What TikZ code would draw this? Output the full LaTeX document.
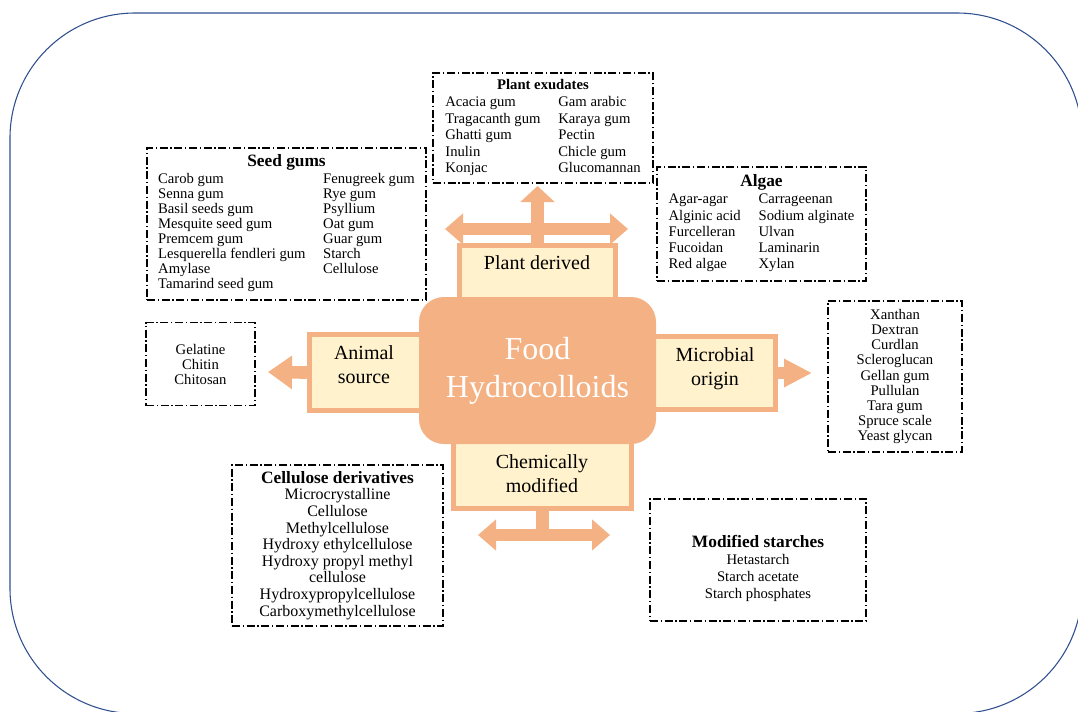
\documentclass[tikz,border=0pt]{standalone}
\usepackage{fontspec}
\setmainfont{Liberation Serif}
\usetikzlibrary{arrows.meta,positioning}

\definecolor{salmon}{HTML}{F4B183}
\definecolor{cream}{HTML}{FFF2CC}
\definecolor{frameblue}{HTML}{2F4F8F}

\tikzset{
  listbox/.style={draw, line width=0.8pt, dash pattern=on 6pt off 2pt on 1pt off 2pt, inner sep=0pt, align=center},
  catbox/.style={draw=salmon, fill=cream, line width=4pt, inner sep=0pt},
  cattext/.style={font=\fontsize{15}{18}\selectfont, align=center},
  fatarrow/.style={draw=salmon, line width=9.5pt, >={Triangle[length=13.5pt,width=22.5pt]}},
}

\begin{document}
\begin{tikzpicture}[x=0.75pt,y=-0.75pt]
\useasboundingbox (0,0) rectangle (1078,711);
\fill[white] (0,0) rectangle (1078,711);
\begin{scope}
\clip (0,0) rectangle (1078,711);
\draw[frameblue, line width=0.8pt, rounded corners=93.75pt] (10,13) rectangle (1082,713.5);
\end{scope}

% categories
\node[catbox, minimum width=117pt, minimum height=48.4pt] (plant) at (537.5,277.75) {};
\node[cattext] (plantlbl) at (537,263) {Plant derived};
\node[catbox, minimum width=90.4pt, minimum height=57pt] (animal) at (369.75,372.5) {};
\node[cattext] (animallbl) at (364,365) {Animal\\source};
\node[catbox, minimum width=94pt, minimum height=54.75pt] (microbe) at (712.75,373) {};
\node[cattext] (microbelbl) at (715,369) {Microbial\\origin};
\node[catbox, minimum width=133.5pt, minimum height=59pt] (chem) at (542.5,469) {};
\node[cattext] (chemlbl) at (542,474) {Chemically\\modified};

\node[fill=salmon, rounded corners=18.75pt, minimum width=177.75pt, minimum height=110.25pt,
  text=white, font=\fontsize{24}{28.5}\selectfont, align=center] (food) at (537.5,370.5) {Food\\Hydrocolloids};

% arrows
\coordinate (pdtip) at (537.5,186);
\coordinate (pdleft) at (445,229);
\coordinate (pdright) at (628,229);
\coordinate (cmjoin) at (542.5,535);
\coordinate (cmleft) at (478,535);
\coordinate (cmright) at (610,535);
\coordinate (astip) at (268,372);
\coordinate (motip) at (812,373);

\draw[fatarrow, -{Triangle[length=12pt,width=25pt]}] (plant.north) -- (pdtip);
\draw[fatarrow, <->] (pdleft) -- (pdright);
\draw[fatarrow] (chem.south) -- (cmjoin);
\draw[fatarrow, <->] (cmleft) -- (cmright);
\draw[fatarrow, -{Triangle[length=18pt,width=24pt]}] (animal.west) -- (astip);
\draw[fatarrow, -{Triangle[length=21pt,width=20pt]}] (microbe.east) -- (motip);

% lists
\node[listbox, minimum width=165pt, minimum height=82.5pt, font=\fontsize{11}{12.4}\selectfont] (exudates) at (543,128) {%
  \begin{tabular}{@{}p{84.75pt}@{}l@{}}
  \multicolumn{2}{c}{\textbf{Plant exudates}}\\
  Acacia gum & Gam arabic\\
  Tragacanth gum & Karaya gum\\
  Ghatti gum & Pectin\\
  Inulin & Chicle gum\\
  Konjac & Glucomannan
  \end{tabular}};

\node[listbox, minimum width=209.25pt, minimum height=114pt, font=\fontsize{11}{11.3}\selectfont] (seeds) at (286.5,224) {%
  \begin{tabular}{@{}p{123.75pt}@{}l@{}}
  \multicolumn{2}{c}{\fontsize{13}{15}\selectfont\textbf{Seed gums}}\\[1pt]
  Carob gum & Fenugreek gum\\
  Senna gum & Rye gum\\
  Basil seeds gum & Psyllium\\
  Mesquite seed gum & Oat gum\\
  Premcem gum & Guar gum\\
  Lesquerella fendleri gum & Starch\\
  Amylase & Cellulose\\
  Tamarind seed gum &
  \end{tabular}};

\node[listbox, minimum width=156.75pt, minimum height=85.5pt, font=\fontsize{11}{12.2}\selectfont] (algae) at (761.5,224) {%
  \begin{tabular}{@{}p{67.5pt}@{}l@{}}
  \multicolumn{2}{c}{\fontsize{13}{15}\selectfont\textbf{Algae}}\\[1pt]
  Agar-agar & Carrageenan\\
  Alginic acid & Sodium alginate\\
  Furcelleran & Ulvan\\
  Fucoidan & Laminarin\\
  Red algae & Xylan
  \end{tabular}};

\node[listbox, minimum width=100.5pt, minimum height=113.25pt, font=\fontsize{11}{11.4}\selectfont] (microlist) at (895,376.5)
  {Xanthan\\Dextran\\Curdlan\\Scleroglucan\\Gellan gum\\Pullulan\\Tara gum\\Spruce scale\\Yeast glycan};

\node[listbox, minimum width=81.75pt, minimum height=62.25pt, font=\fontsize{11}{11.25}\selectfont] (animallist) at (200.5,364)
  {Gelatine\\Chitin\\Chitosan};

\node[listbox, minimum width=158.25pt, minimum height=120.75pt, font=\fontsize{12}{12.45}\selectfont] (cellulose) at (337.5,545.5)
  {{\fontsize{13}{15}\selectfont\textbf{Cellulose derivatives}}\\Microcrystalline\\Cellulose\\Methylcellulose\\Hydroxy ethylcellulose\\Hydroxy propyl methyl\\cellulose\\Hydroxypropylcellulose\\Carboxymethylcellulose};

\node[listbox, minimum width=162pt, minimum height=91.5pt] (starchbox) at (758,560) {};
\node[align=center, inner sep=0pt, font=\fontsize{11}{12.75}\selectfont] (starchtext) at (758,568)
  {{\fontsize{13}{15}\selectfont\textbf{Modified starches}}\\Hetastarch\\Starch acetate\\Starch phosphates};
\end{tikzpicture}
\end{document}
